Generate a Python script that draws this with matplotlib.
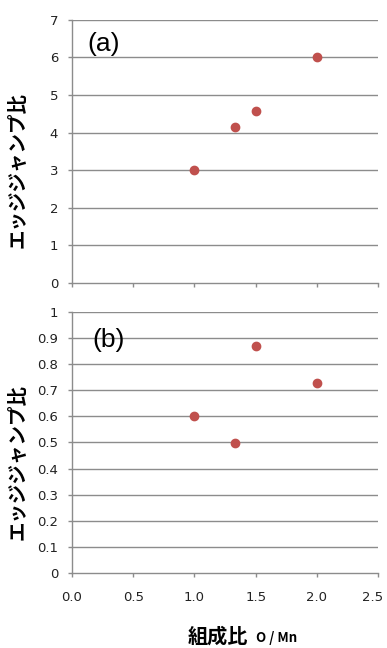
import numpy as np
import matplotlib
matplotlib.use("Agg")
import matplotlib.pyplot as plt
from matplotlib.transforms import ScaledTranslation

plt.rcParams['font.family'] = ['DejaVu Sans', 'Noto Sans CJK JP']

# composition ratio O/Mn and the measured edge-jump ratios
ratio_a = [1.0, 1.333, 1.5, 2.0]
jump_a = [3.0, 4.15, 4.58, 6.0]
ratio_b = [1.0, 1.333, 1.5, 2.0]
jump_b = [0.60, 0.497, 0.868, 0.727]

x_ticks = [0.0, 0.5, 1.0, 1.5, 2.0, 2.5]
x_ticklabels = ["0.0", "0.5", "1.0", "1.5", "2.0", "2.5"]
yticks_a = list(range(0, 8))
yticks_b = [round(0.1 * i, 1) for i in range(11)]
yticklabels_b = ["0", "0.1", "0.2", "0.3", "0.4", "0.5", "0.6", "0.7", "0.8", "0.9", "1"]

grid_c = '#8c8c8c'
dot_c = '#c0504d'
jp = ['Noto Sans CJK JP', 'DejaVu Sans']

fig = plt.figure(figsize=(3.87, 6.48), dpi=100)
ax1 = fig.add_axes([0.186, 0.5633, 0.791, 0.406])
ax2 = fig.add_axes([0.186, 0.1157, 0.791, 0.403])


def style(ax, yticks, ylabels, show_x, label_y):
    ax.set_xlim(0, 2.5)
    ax.set_ylim(yticks[0], yticks[-1])
    ax.set_yticks(yticks)
    ax.set_yticklabels(ylabels, fontsize=9.5, color='#222222')
    ax.set_xticks(x_ticks)
    if show_x:
        ax.set_xticklabels(x_ticklabels, fontsize=9.5, color='#222222')
    else:
        ax.set_xticklabels([])
    for t in yticks[1:]:
        ax.axhline(t, color=grid_c, lw=1.0, zorder=1)
    for s in ['top', 'right']:
        ax.spines[s].set_visible(False)
    for s in ['left', 'bottom']:
        ax.spines[s].set_color(grid_c)
        ax.spines[s].set_linewidth(1.0)
    ax.tick_params(axis='y', direction='out', length=3, width=1.0, color=grid_c, pad=7)
    ax.tick_params(axis='x', direction='out', length=3, width=1.0, color=grid_c, pad=10)
    ax.set_ylabel("エッジジャンプ比", family=jp, fontweight='bold', fontsize=14)
    ax.yaxis.set_label_coords(-0.144, label_y)


style(ax1, yticks_a, [str(v) for v in yticks_a], False, 0.43)
style(ax2, yticks_b, yticklabels_b, True, 0.425)

# keep the last x label inside the figure
last = ax2.get_xticklabels()[-1]
last.set_transform(last.get_transform() + ScaledTranslation(-4 / 72, 0, fig.dpi_scale_trans))

ax1.plot(ratio_a, jump_a, 'o', color=dot_c, ms=6, mec=dot_c, zorder=3, clip_on=False)
ax2.plot(ratio_b, jump_b, 'o', color=dot_c, ms=6, mec=dot_c, zorder=3, clip_on=False)

ax1.text(0.125, 6.36, "(a)", family='Liberation Sans', fontsize=19, va='center', ha='left')
ax2.text(0.165, 0.893, "(b)", family='Liberation Sans', fontsize=19, va='center', ha='left')

fig.text(0.64, 0.0085, "組成比", family=jp, fontweight='bold', fontsize=14.5, ha='right', va='baseline')
fig.text(0.662, 0.0085, "O / Mn", family=jp, fontweight='bold', fontsize=9.5, ha='left', va='baseline')

fig.savefig("out.png", dpi=100)
